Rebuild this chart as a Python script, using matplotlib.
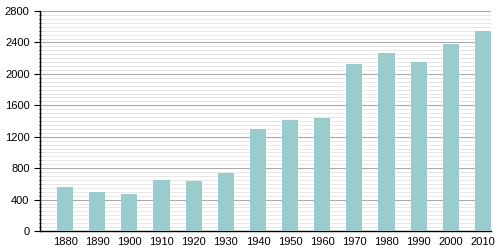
import matplotlib
matplotlib.use("Agg")
import matplotlib.pyplot as plt
from matplotlib.ticker import MultipleLocator

years = ["1880", "1890", "1900", "1910", "1920", "1930", "1940",
         "1950", "1960", "1970", "1980", "1990", "2000", "2010"]
population = [560, 496, 471, 649, 636, 734, 1298,
              1413, 1438, 2125, 2265, 2150, 2380, 2545]

plt.rcParams['font.family'] = ['Liberation Sans', 'DejaVu Sans']

fig = plt.figure(figsize=(5, 2.5), dpi=100)
ax = fig.add_axes([0.08, 0.076, 0.902, 0.88])

x = range(len(years))
ax.bar(x, population, width=0.5, color="#99cccc", zorder=3)

ax.set_ylim(0, 2800)
ax.set_xlim(-0.78, 13.25)
ax.yaxis.set_major_locator(MultipleLocator(400))
ax.yaxis.set_minor_locator(MultipleLocator(50))
ax.grid(axis="y", which="major", color="#aaaaaa", linewidth=0.8, zorder=1)
ax.grid(axis="y", which="minor", color="#e4e4e4", linewidth=0.6, zorder=0)

ax.set_xticks(list(x))
ax.set_xticklabels(years)
ax.tick_params(axis="x", length=0, labelsize=8, pad=4)
ax.tick_params(axis="y", which="major", length=4, direction="out", labelsize=8)
ax.tick_params(axis="y", which="minor", length=2, direction="inout")

for s in ["top", "right"]:
    ax.spines[s].set_visible(False)
ax.spines["left"].set_linewidth(1.0)
ax.spines["bottom"].set_linewidth(1.0)

plt.savefig("out.png", dpi=100)
